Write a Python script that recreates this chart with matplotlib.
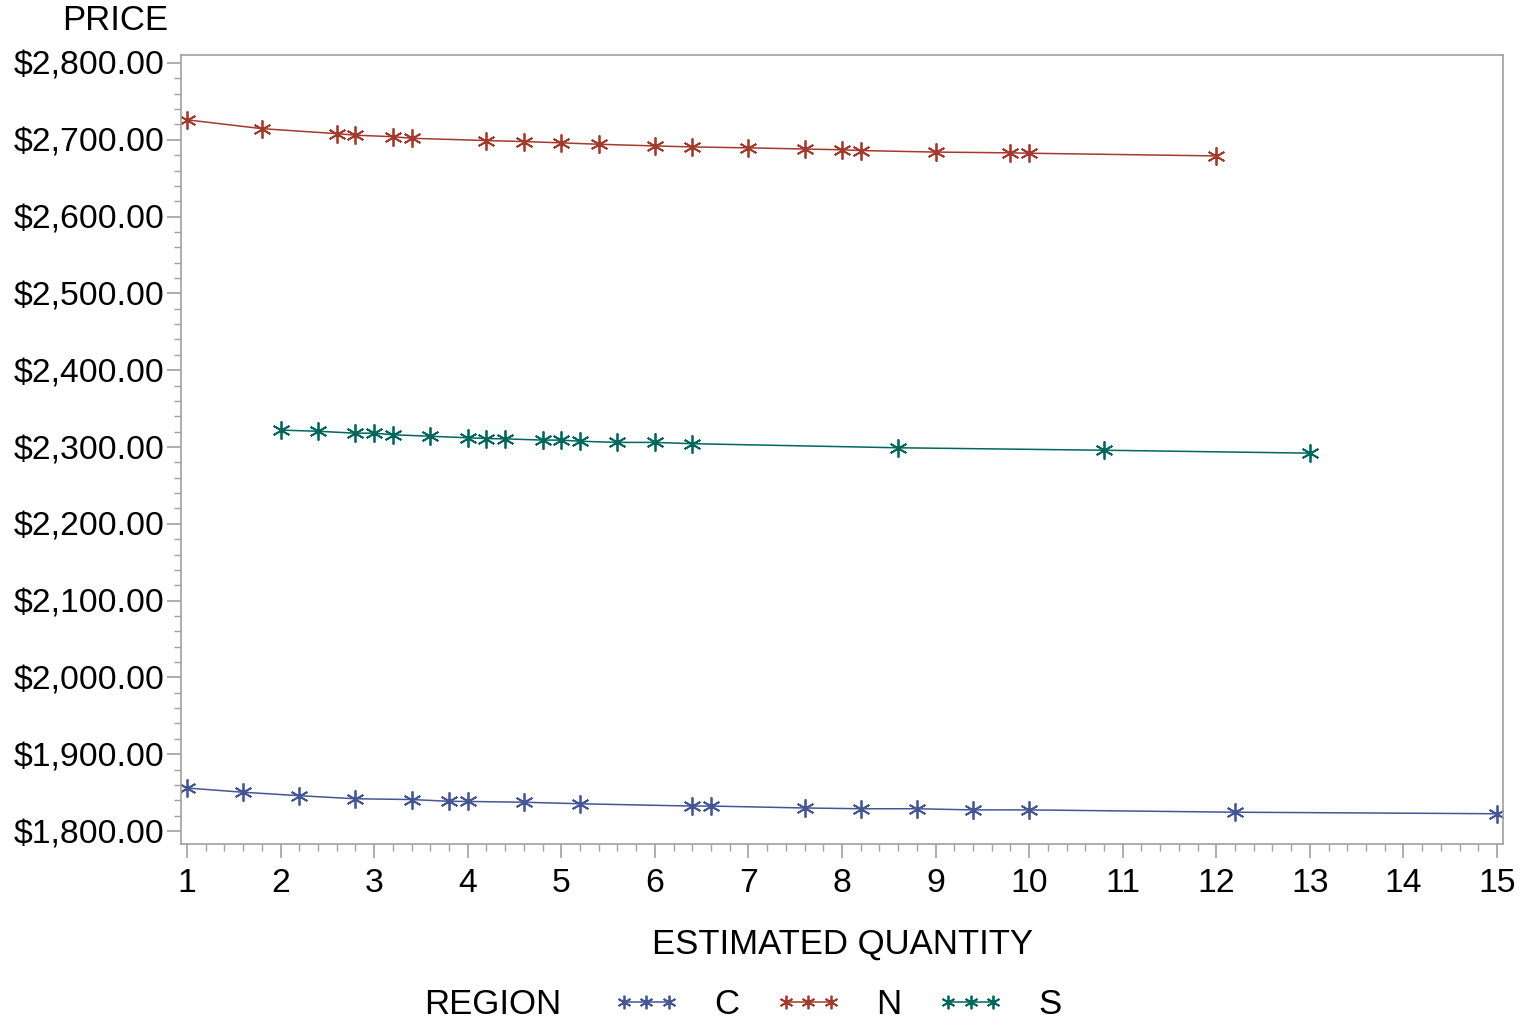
import numpy as np
import matplotlib
matplotlib.use("Agg")
import matplotlib.pyplot as plt
from matplotlib.ticker import MultipleLocator, FuncFormatter

plt.rcParams.update({"font.family": ["Liberation Sans", "DejaVu Sans"],
                     "font.size": 25})

# estimated quantity / price per region
c_qty = [1.0, 1.6, 2.2, 2.8, 3.4, 3.8, 4.0, 4.6, 5.2, 6.4, 6.6, 7.6, 8.2, 8.8, 9.4, 10.0, 12.2, 15.0]
c_price = [1856, 1850.5, 1846, 1842, 1841, 1838.7, 1838.5, 1837.5, 1835.5, 1832.5, 1832.5,
           1830, 1829, 1829, 1827.5, 1827.5, 1824.5, 1822.5]

n_qty = [1.0, 1.8, 2.6, 2.8, 3.2, 3.4, 4.2, 4.6, 5.0, 5.4, 6.0, 6.4, 7.0, 7.6, 8.0, 8.2, 9.0, 9.8, 10.0, 12.0]
n_price = [2726, 2714.5, 2708, 2706, 2704, 2702, 2699, 2697.7, 2696, 2694.2, 2692, 2690.7,
           2689.5, 2688, 2687, 2686, 2684, 2683, 2682.5, 2679]

s_qty = [2.0, 2.4, 2.8, 3.0, 3.2, 3.6, 4.0, 4.2, 4.4, 4.8, 5.0, 5.2, 5.6, 6.0, 6.4, 8.6, 10.8, 13.0]
s_price = [2322, 2320.5, 2318, 2318, 2316, 2314, 2312, 2311, 2310.6, 2309, 2309, 2307.5,
           2306, 2306, 2304.3, 2299, 2295.8, 2292]

regions = ["C", "N", "S"]
colors = {"C": "#445694", "N": "#A23A2E", "S": "#01665E"}
series = {"C": (c_qty, c_price), "N": (n_qty, n_price), "S": (s_qty, s_price)}

fig = plt.figure(figsize=(15.28, 10.25), dpi=100)
ax = fig.add_axes([181/1528, 1-844/1025, (1503-181)/1528, (844-55)/1025])

handles = []
for reg in regions:
    xq, yp = series[reg]
    h, = ax.plot(xq, yp, color=colors[reg], lw=1.1, marker=(6, 2, 0), ms=13,
                 mew=1.3, label=reg)
    handles.append(h)

ax.set_xlim(0.936, 15.064)
ax.set_ylim(1783.1, 2810.4)
ax.xaxis.set_major_locator(MultipleLocator(1))
ax.xaxis.set_minor_locator(MultipleLocator(0.2))
ax.yaxis.set_major_locator(MultipleLocator(100))
ax.yaxis.set_minor_locator(MultipleLocator(20))
ax.yaxis.set_major_formatter(FuncFormatter(lambda v, p: f"${v:,.2f}"))

gray = "#A0A0A0"
for sp in ax.spines.values():
    sp.set_color(gray)
    sp.set_linewidth(1.2)
ax.tick_params(which="major", length=10, width=1.2, color=gray, labelsize=24.3, pad=2)
ax.tick_params(which="minor", length=5, width=1.0, color=gray)
ax.tick_params(axis="x", which="major", pad=7)

fig.text(168/1528, 1-21/1025, "PRICE", ha="right", va="center", fontsize=25)
fig.text(843/1528, 1-944/1025, "ESTIMATED QUANTITY", ha="center", va="center", fontsize=25)
fig.text(493/1528, 1-1005/1025, "REGION", ha="center", va="center", fontsize=25)

leg = fig.legend(handles=handles, labels=regions, ncol=3, numpoints=3, frameon=False,
                 loc="center left", bbox_to_anchor=(582/1528, 1-1005/1025),
                 handlelength=1.9, handletextpad=1.0, columnspacing=1.05,
                 fontsize=25, markerscale=0.75)

fig.savefig("out.png", dpi=100)
